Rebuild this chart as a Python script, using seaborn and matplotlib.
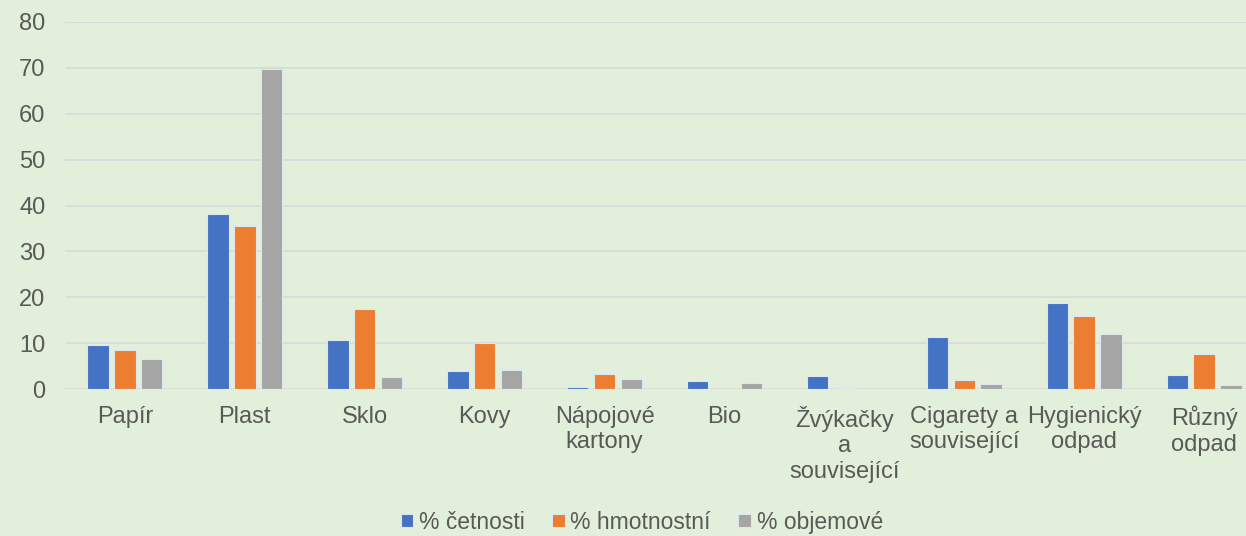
import pandas as pd
import matplotlib.pyplot as plt
import seaborn as sns

# Kategorie odpadu a hodnoty
kategorie = ['Papír', 'Plast', 'Sklo', 'Kovy', 'Nápojové\nkartony', 'Bio',
             'Žvýkačky\na\nsouvisející', 'Cigarety a\nsouvisející',
             'Hygienický\nodpad', 'Různý\nodpad']
cetnost = [9.7, 38.1, 10.7, 4.0, 0.5, 1.7, 2.9, 11.3, 18.8, 3.0]
hmotnost = [8.4, 35.5, 17.4, 10.0, 3.3, 0.1, 0.2, 2.0, 15.9, 7.6]
objem = [6.6, 69.7, 2.6, 4.1, 2.2, 1.3, 0.1, 1.0, 12.0, 0.9]
serie = ['% četnosti', '% hmotnostní', '% objemové']
barvy = ['#4472C4', '#ED7D31', '#A5A5A5']

df = pd.DataFrame({
    'kategorie': kategorie * 3,
    'hodnota': cetnost + hmotnost + objem,
    'serie': [s for s in serie for _ in kategorie],
})

sns.set_style('white')
plt.rcParams['font.family'] = ['Liberation Sans', 'DejaVu Sans']
text_col = '#595959'
bg = '#E2EFDA'
fs = 17

fig = plt.figure(figsize=(12.46, 5.36), dpi=100, facecolor=bg)
ax = fig.add_axes([65 / 1246, 147 / 536, 1199 / 1246, 367 / 536])
ax.set_facecolor(bg)

sns.barplot(data=df, x='kategorie', y='hodnota', hue='serie', order=kategorie,
            hue_order=serie, palette=barvy, saturation=1, width=0.67, gap=0.2,
            edgecolor='#dde6ee', linewidth=0.8, ax=ax, zorder=3)

ax.set_ylim(0, 80)
ax.set_yticks(range(0, 81, 10))
ax.set_xlim(-0.5, len(kategorie) - 0.5)
ax.grid(axis='y', color='#D9D9D9', linewidth=1.2, zorder=0)
ax.set_axisbelow(True)
for s in ax.spines.values():
    s.set_visible(False)
ax.set_xlabel('')
ax.set_ylabel('')
ax.tick_params(axis='both', length=0, labelsize=fs, colors=text_col)
ax.tick_params(axis='y', pad=14)
ax.tick_params(axis='x', pad=12)
for t in ax.get_xticklabels():
    t.set_linespacing(1.22)

ax.legend_.remove()
handles, labels = ax.get_legend_handles_labels()
fig.legend(handles, labels, loc='center', bbox_to_anchor=(0.515, 0.026),
           ncol=3, frameon=False, fontsize=16.5, labelcolor=text_col,
           handlelength=0.55, handleheight=0.55, handletextpad=0.25,
           columnspacing=1.2)

fig.savefig('out.png', dpi=100, facecolor=bg)
